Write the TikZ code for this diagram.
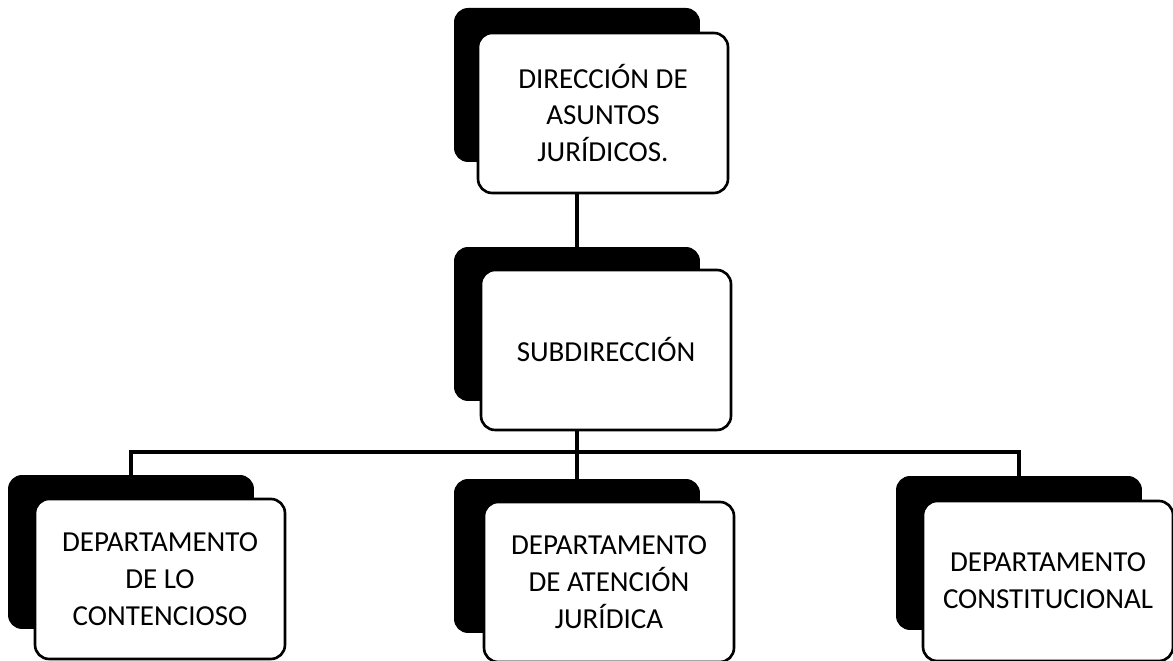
\documentclass[tikz,border=0pt]{standalone}
\usepackage{fontspec}
\setmainfont{Carlito}
\usetikzlibrary{positioning}

\begin{document}
\begin{tikzpicture}[
    x=0.02cm, y=0.02cm,
    back/.style={fill=black, rounded corners=8pt, minimum width=4.92cm, minimum height=3.08cm},
    box/.style={draw, line width=1.5pt, fill=white, rounded corners=8pt, minimum width=5cm, minimum height=3.2cm, align=center, font=\fontsize{16.5}{21}\selectfont},
    link/.style={line width=1.8pt}
]
\useasboundingbox (0,0) rectangle (1173,661);
\node[back] (dirB) at (577,576) {};
\node[box] (dir) at ([shift={(26,-28)}]dirB.center) {DIRECCIÓN DE\\ASUNTOS\\JURÍDICOS.};
\node[back] (subB) at (577,337) {};
\node[box] (sub) at ([shift={(29,-26)}]subB.center) {SUBDIRECCIÓN};
\node[back] (leftB) at (131,109) {};
\node[box] (left) at ([shift={(29,-27)}]leftB.center) {DEPARTAMENTO\\DE LO\\CONTENCIOSO};
\node[back] (midB) at (577,105) {};
\node[box] (mid) at ([shift={(32,-26)}]midB.center) {DEPARTAMENTO\\DE ATENCIÓN\\JURÍDICA};
\node[back] (rightB) at (1019,108) {};
\node[box] (right) at ([shift={(29,-28)}]rightB.center) {DEPARTAMENTO\\CONSTITUCIONAL};
\coordinate (bus) at (577,209);

\draw[link] (dir.south -| dirB) -- (subB.north);
\draw[link] (sub.south -| subB) -- (bus) -- (midB.north);
\draw[link] (leftB.north) |- (bus) -| (rightB.north);
\end{tikzpicture}
\end{document}
